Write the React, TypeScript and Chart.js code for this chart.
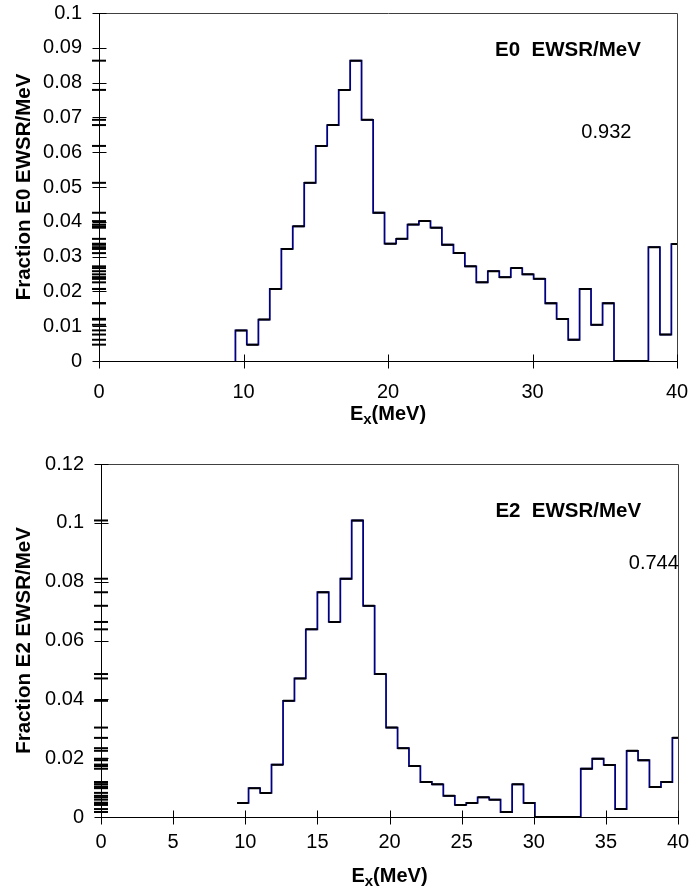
import React, { useEffect, useRef } from "react";
import { Chart, registerables } from "chart.js";

Chart.register(...registerables);

const FONT = "'Liberation Sans', Arial, Helvetica, sans-serif";

// Bin edges (MeV), shared by both histograms
const binEdges = [
  9.44, 10.23, 11.03, 11.82, 12.62, 13.41, 14.2, 15.0, 15.79, 16.59, 17.38, 18.17,
  18.97, 19.76, 20.56, 21.35, 22.14, 22.94, 23.73, 24.53, 25.32, 26.11, 26.91, 27.7,
  28.5, 29.29, 30.08, 30.88, 31.67, 32.47, 33.26, 34.05, 34.85, 35.64, 36.44, 37.23,
  38.02, 38.82, 39.61, 40.41,
];

// Fraction E0 EWSR/MeV per bin
const e0Values = [
  0.0088, 0.0047, 0.0119, 0.0207, 0.0322, 0.0387, 0.0512, 0.0618, 0.0678, 0.0779,
  0.0863, 0.0693, 0.0426, 0.0337, 0.0351, 0.0392, 0.0402, 0.0383, 0.0334, 0.031,
  0.0272, 0.0226, 0.0258, 0.0241, 0.0267, 0.0249, 0.0236, 0.0166, 0.0121, 0.0061,
  0.0207, 0.0104, 0.0166, 0, 0, 0, 0.0327, 0.0076, 0.0336,
];

// Fraction E2 EWSR/MeV per bin
const e2Values = [
  0.0048, 0.0098, 0.0082, 0.0178, 0.0395, 0.0471, 0.0638, 0.0764, 0.0663, 0.081,
  0.1008, 0.0718, 0.0486, 0.0304, 0.0234, 0.0173, 0.0119, 0.0111, 0.0072, 0.0041,
  0.0048, 0.0067, 0.0059, 0.0017, 0.0111, 0.0048, 0, 0, 0, 0,
  0.0164, 0.0198, 0.0177, 0.0027, 0.0225, 0.0193, 0.0102, 0.0119, 0.0269,
];

const e0Title = "Fraction E0 EWSR/MeV";
const e2Title = "Fraction E2 EWSR/MeV";
const e0Label = "E0  EWSR/MeV";
const e2Label = "E2  EWSR/MeV";
const e0Sum = "0.932";
const e2Sum = "0.744";

function stepPoints(edges: number[], vals: number[], fromZero: boolean) {
  const pts: { x: number; y: number }[] = [];
  if (fromZero) pts.push({ x: edges[0], y: 0 });
  vals.forEach((v, i) => {
    pts.push({ x: edges[i], y: v });
    pts.push({ x: edges[i + 1], y: v });
  });
  return pts;
}

function segPoints(edges: number[], vals: number[]) {
  const pts: { x: number; y: number | null }[] = [];
  vals.forEach((v, i) => {
    pts.push({ x: edges[i], y: v });
    pts.push({ x: edges[i + 1], y: v });
    pts.push({ x: edges[i + 1], y: null });
  });
  return pts;
}

const decorPlugin = {
  id: "decor",
  afterDraw(chart: any, _args: any, opts: any) {
    const { ctx, chartArea: a, scales } = chart;
    const xs = scales.x;
    const ys = scales.y;
    ctx.save();
    // top & right frame
    ctx.strokeStyle = "#404040";
    ctx.lineWidth = 1;
    ctx.beginPath();
    const t = Math.floor(a.top) + 0.5;
    const r = Math.floor(a.right) + 0.5;
    const b = Math.floor(a.bottom) + 0.5;
    const l = Math.floor(a.left) + 0.5;
    ctx.moveTo(l, t);
    ctx.lineTo(r, t);
    ctx.lineTo(r, b);
    ctx.stroke();
    // crossing tick marks
    ctx.strokeStyle = "#000";
    ctx.beginPath();
    xs.ticks.forEach((tk: any) => {
      const px = Math.round(xs.getPixelForValue(tk.value)) + 0.5;
      ctx.moveTo(px, b - 7);
      ctx.lineTo(px, b + 7);
    });
    ys.ticks.forEach((tk: any) => {
      const py = Math.round(ys.getPixelForValue(tk.value)) + 0.5;
      ctx.moveTo(l - 7, py);
      ctx.lineTo(l + 7, py);
    });
    ctx.stroke();

    ctx.fillStyle = "#000";
    // y title
    ctx.save();
    ctx.translate(opts.yTitleX, (a.top + a.bottom) / 2);
    ctx.rotate(-Math.PI / 2);
    ctx.font = `bold 20.5px ${FONT}`;
    ctx.textAlign = "center";
    ctx.textBaseline = "middle";
    ctx.fillText(opts.yTitle, 0, 0);
    ctx.restore();

    // x title with subscript
    const cx = xs.getPixelForValue(20);
    const base = a.bottom + opts.xTitleOffset;
    ctx.textBaseline = "alphabetic";
    ctx.textAlign = "left";
    ctx.font = `bold 20px ${FONT}`;
    const wE = ctx.measureText("E").width;
    const wR = ctx.measureText("(MeV)").width;
    ctx.font = `bold 15px ${FONT}`;
    const wx = ctx.measureText("x").width;
    let sx = cx - (wE + wx + wR) / 2;
    ctx.font = `bold 20px ${FONT}`;
    ctx.fillText("E", sx, base);
    sx += wE;
    ctx.font = `bold 15px ${FONT}`;
    ctx.fillText("x", sx, base + 4);
    sx += wx;
    ctx.font = `bold 20px ${FONT}`;
    ctx.fillText("(MeV)", sx, base);

    // notes
    (opts.notes || []).forEach((n: any) => {
      ctx.font = `${n.bold ? "bold 20.5px" : "20px"} ${FONT}`;
      ctx.textAlign = "left";
      ctx.textBaseline = "middle";
      ctx.fillText(n.text, xs.getPixelForValue(n.x), ys.getPixelForValue(n.y));
    });
    ctx.restore();
  },
};

function makeConfig(p: {
  values: number[];
  fromZero: boolean;
  yMax: number;
  yStep: number;
  xStep: number;
  yWidth: number;
  xHeight: number;
  padTop: number;
  padRight: number;
  xLabelPad: number;
  yTitle: string;
  xTitleOffset: number;
  notes: any[];
}) {
  const fmt = (v: any) => String(Number(Number(v).toFixed(4)));
  return {
    type: "scatter",
    data: {
      datasets: [
        {
          label: "bars",
          data: segPoints(binEdges, p.values),
          showLine: true,
          spanGaps: false,
          borderColor: "#000",
          borderWidth: 2,
          pointRadius: 0,
          tension: 0,
        },
        {
          label: "steps",
          data: stepPoints(binEdges, p.values, p.fromZero),
          showLine: true,
          borderColor: "#000080",
          borderWidth: 1.8,
          pointRadius: 0,
          tension: 0,
        },
        {
          label: "marks",
          data: p.values.filter((v) => v > 0).map((v) => ({ x: 0, y: v })),
          showLine: false,
          pointStyle: "line",
          pointRadius: 7,
          pointBorderWidth: 2,
          pointBorderColor: "#000",
          pointBackgroundColor: "#000",
          clip: false,
        },
      ],
    },
    options: {
      animation: false,
      responsive: false,
      maintainAspectRatio: false,
      events: [],
      layout: { padding: { top: p.padTop, right: p.padRight, left: 0, bottom: 0 } },
      plugins: {
        legend: { display: false },
        tooltip: { enabled: false },
        decor: { yTitle: p.yTitle, yTitleX: 24, xTitleOffset: p.xTitleOffset, notes: p.notes },
      },
      scales: {
        x: {
          type: "linear",
          min: 0,
          max: 40,
          afterFit: (s: any) => {
            s.height = p.xHeight;
            s.paddingLeft = 0;
            s.paddingRight = 0;
          },
          ticks: {
            stepSize: p.xStep,
            autoSkip: false,
            maxRotation: 0,
            padding: p.xLabelPad,
            color: "#000",
            font: { family: FONT, size: 20 },
          },
          grid: { display: true, drawOnChartArea: false, drawTicks: false },
          border: { display: true, color: "#000", width: 1 },
        },
        y: {
          type: "linear",
          min: 0,
          max: p.yMax,
          afterFit: (s: any) => {
            s.width = p.yWidth;
            s.paddingTop = 0;
            s.paddingBottom = 0;
          },
          ticks: {
            stepSize: p.yStep,
            autoSkip: false,
            padding: 17,
            color: "#000",
            font: { family: FONT, size: 20 },
            callback: fmt,
          },
          grid: { display: true, drawOnChartArea: false, drawTicks: false },
          border: { display: true, color: "#000", width: 1 },
        },
      },
    },
    plugins: [decorPlugin],
  } as any;
}

export default function App() {
  const topRef = useRef<HTMLCanvasElement>(null);
  const botRef = useRef<HTMLCanvasElement>(null);

  useEffect(() => {
    const c1 = new Chart(
      topRef.current as HTMLCanvasElement,
      makeConfig({
        values: e0Values,
        fromZero: true,
        yMax: 0.1,
        yStep: 0.01,
        xStep: 10,
        yWidth: 99,
        xHeight: 79,
        padTop: 13,
        padRight: 12,
        xLabelPad: 19,
        yTitle: e0Title,
        xTitleOffset: 59,
        notes: [
          { text: e0Label, x: 27.41, y: 0.0892, bold: true },
          { text: e0Sum, x: 33.38, y: 0.0657, bold: false },
        ],
      })
    );
    const c2 = new Chart(
      botRef.current as HTMLCanvasElement,
      makeConfig({
        values: e2Values,
        fromZero: false,
        yMax: 0.12,
        yStep: 0.02,
        xStep: 5,
        yWidth: 101,
        xHeight: 69,
        padTop: 24,
        padRight: 11,
        xLabelPad: 13,
        yTitle: e2Title,
        xTitleOffset: 65,
        notes: [
          { text: e2Label, x: 27.34, y: 0.1039, bold: true },
          { text: e2Sum, x: 36.59, y: 0.0863, bold: false },
        ],
      })
    );
    return () => {
      c1.destroy();
      c2.destroy();
    };
  }, []);

  return (
    <div style={{ position: "absolute", left: 0, top: 0, width: 689, height: 886, background: "#fff" }}>
      <canvas ref={topRef} width={689} height={440} style={{ position: "absolute", left: 0, top: 0 }} />
      <canvas ref={botRef} width={689} height={446} style={{ position: "absolute", left: 0, top: 440 }} />
    </div>
  );
}
